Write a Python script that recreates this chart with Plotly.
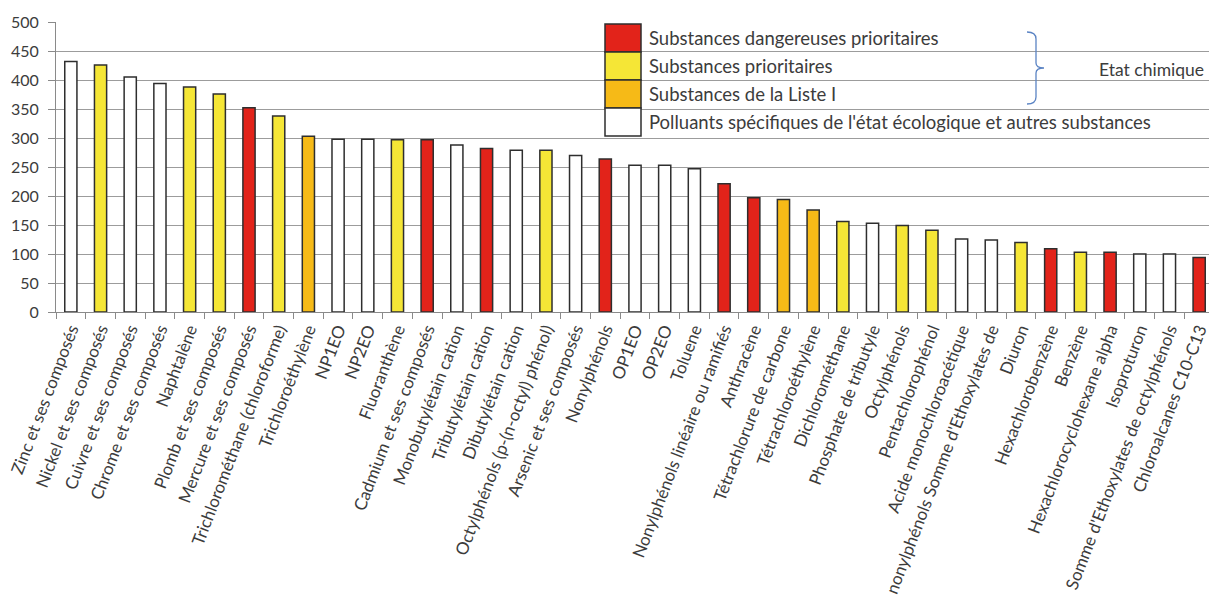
import plotly.graph_objects as go

substances = [
    "Zinc et ses composés", "Nickel et ses composés", "Cuivre et ses composés",
    "Chrome et ses composés", "Naphtalène", "Plomb et ses composés",
    "Mercure et ses composés", "Trichlorométhane (chloroforme)", "Trichloroéthylène",
    "NP1EO", "NP2EO", "Fluoranthène", "Cadmium et ses composés",
    "Monobutylétain cation", "Tributylétain cation", "Dibutylétain cation",
    "Octylphénols (p-(n-octyl) phénol)", "Arsenic et ses composés", "Nonylphénols",
    "OP1EO", "OP2EO", "Toluene", "Nonylphénols linéaire ou ramifiés", "Anthracène",
    "Tétrachlorure de carbone", "Tétrachloroéthylène", "Dichlorométhane",
    "Phosphate de tributyle", "Octylphénols", "Pentachlorophénol",
    "Acide monochloroacétique", "nonylphénols Somme d'Ethoxylates de", "Diuron",
    "Hexachlorobenzène", "Benzène", "Hexachlorocyclohexane alpha", "Isoproturon",
    "Somme d'Ethoxylates de octylphénols", "Chloroalcanes C10-C13",
]
values = [
    432, 426, 405, 394, 388, 376, 352, 338, 303, 298, 298, 297, 297,
    288, 282, 279, 279, 270, 264, 253, 253, 247, 221, 197, 194, 176,
    156, 153, 149, 141, 126, 124, 120, 109, 103, 103, 100, 100, 94,
]
types = [
    "A", "P", "A", "A", "P", "P", "D", "P", "L", "A", "A", "P", "D",
    "A", "D", "A", "P", "A", "D", "A", "A", "A", "D", "D", "L", "L",
    "P", "A", "P", "P", "A", "A", "P", "D", "P", "D", "A", "A", "D",
]
legend_types = ["D", "P", "L", "A"]
legend_labels = [
    "Substances dangereuses prioritaires",
    "Substances prioritaires",
    "Substances de la Liste I",
    "Polluants spécifiques de l'état écologique et autres substances",
]
group_label = "Etat chimique"
y_ticks = [0, 50, 100, 150, 200, 250, 300, 350, 400, 450, 500]

colors = {"D": "#E2231A", "P": "#F5E636", "L": "#F6BA17", "A": "#FFFFFF"}
text_color = "#3C3C3C"
font_family = "Lato, 'Noto Sans', sans-serif"

OFF = 8  # page body margin
W, H = 1217 - OFF, 601 - OFF
ML, MR, MT = 56 - OFF, 3, 22 - OFF
PH = 290
MB = H - MT - PH
PW = W - ML - MR


def px(x):  # page pixel -> paper fraction
    return (x - OFF - ML) / PW


def py(y):
    return (MT + OFF + PH - y) / PH


fig = go.Figure()
fig.add_trace(go.Bar(
    x=substances, y=values,
    marker=dict(color=[colors[t] for t in types], line=dict(color="#2E2E2E", width=1.5)),
    width=0.41, showlegend=False, hoverinfo="x+y",
))

shapes = []
annotations = []
# white panel hiding gridlines behind the legend
shapes.append(dict(type="rect", xref="paper", yref="paper", layer="between",
                   x0=px(594), x1=1.01, y0=py(143), y1=1.03,
                   fillcolor="white", line=dict(width=0)))
sw_top, sw_h = 24, 28
for i, (t, lab) in enumerate(zip(legend_types, legend_labels)):
    y0 = sw_top + i * sw_h
    shapes.append(dict(type="rect", xref="paper", yref="paper", layer="above",
                       x0=px(605), x1=px(641), y0=py(y0 + sw_h), y1=py(y0),
                       fillcolor=colors[t], line=dict(color="#2E2E2E", width=1.5)))
    annotations.append(dict(xref="paper", yref="paper", x=px(647), y=py(y0 + sw_h / 2),
                            xanchor="left", yanchor="middle", text=lab, showarrow=False,
                            font=dict(family=font_family, size=18.5, color=text_color)))
# brace
bx0, bx1, btip = 1027, 1036, 1044
by0, bym, by1 = 32, 68, 104
path = (f"M {px(bx0)},{py(by0)} Q {px(bx1)},{py(by0)} {px(bx1)},{py(by0 + 7)} "
        f"L {px(bx1)},{py(bym - 5)} Q {px(bx1)},{py(bym)} {px(btip)},{py(bym)} "
        f"Q {px(bx1)},{py(bym)} {px(bx1)},{py(bym + 5)} "
        f"L {px(bx1)},{py(by1 - 7)} Q {px(bx1)},{py(by1)} {px(bx0)},{py(by1)}")
shapes.append(dict(type="path", xref="paper", yref="paper", path=path, layer="above",
                   line=dict(color="#5B84C4", width=1.3)))
annotations.append(dict(xref="paper", yref="paper", x=px(1206), y=py(69),
                        xanchor="right", yanchor="middle", text=group_label, showarrow=False,
                        font=dict(family=font_family, size=17.5, color=text_color)))

fig.update_layout(
    width=W, height=H,
    margin=dict(l=ML, r=MR, t=MT, b=MB, autoexpand=False),
    paper_bgcolor="white", plot_bgcolor="white",
    font=dict(family=font_family, color=text_color),
    shapes=shapes, annotations=annotations,
    xaxis=dict(
        type="category", tickangle=-69, tickson="boundaries", ticks="outside",
        ticklen=6, tickcolor="#8A8A8A", showline=True, linecolor="#8A8A8A",
        linewidth=1, showgrid=False, automargin=False,
        tickfont=dict(family=font_family, size=17, color=text_color),
        range=[-0.5, len(substances) - 0.5],
    ),
    yaxis=dict(
        range=[0, 500], tickvals=y_ticks, ticks="outside", ticklen=7,
        tickcolor="#8A8A8A", showline=True, linecolor="#8A8A8A", linewidth=1,
        showgrid=True, gridcolor="#9C9C9C", gridwidth=1, zeroline=False,
        automargin=False, ticklabelstandoff=6,
        tickfont=dict(family=font_family, size=16, color=text_color),
    ),
    bargap=0.59,
)

fig.write_html("out.html")
